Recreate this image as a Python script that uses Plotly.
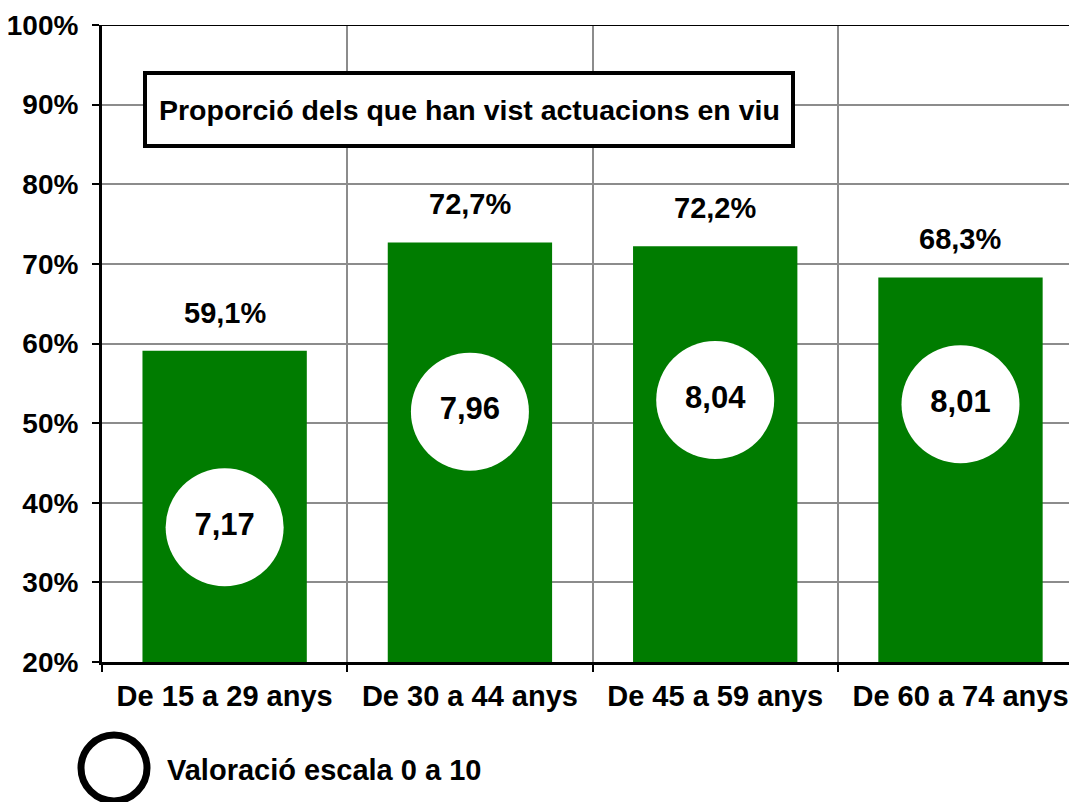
import plotly.graph_objects as go

categories = ["De 15 a 29 anys", "De 30 a 44 anys", "De 45 a 59 anys", "De 60 a 74 anys"]
proporcio = [59.1, 72.7, 72.2, 68.3]
valoracio = [7.17, 7.96, 8.04, 8.01]
ytick_vals = [20, 30, 40, 50, 60, 70, 80, 90, 100]
ytick_text = ["20%", "30%", "40%", "50%", "60%", "70%", "80%", "90%", "100%"]
title_text = "Proporció dels que han vist actuacions en viu"
legend_text = "Valoració escala 0 a 10"

FONT = "Liberation Sans, Arial, sans-serif"
GREEN = "#007c00"
OFF = 8  # page body margin
W, H = 1077 - OFF, 802 - OFF
L, R, T, B = 102 - OFF, 0, 25 - OFF, 140
PW, PH = W - L - R, H - T - B
X0, YB = 102, 662  # plot-area left / bottom in screen pixels


def px_x(p):
    return (p - X0) / PW


def px_y(p):
    return (YB - p) / PH


def fmt(v, dec):
    return f"{v:.{dec}f}".replace(".", ",")


fig = go.Figure()
fig.add_trace(go.Bar(
    x=categories, y=proporcio, width=0.67,
    marker=dict(color=GREEN, line=dict(width=0)),
    hoverinfo="skip", showlegend=False,
))
fig.add_trace(go.Scatter(
    x=categories, y=valoracio, yaxis="y2", mode="markers+text",
    marker=dict(size=118, color="white", line=dict(width=0)),
    text=[fmt(v, 2) for v in valoracio], textposition="middle center",
    textfont=dict(family=FONT, size=31, color="black", weight="bold"),
    cliponaxis=False, showlegend=False, hoverinfo="skip",
))

annotations = []
for c, v in zip(categories, proporcio):
    annotations.append(dict(
        x=c, y=v, xref="x", yref="y", text=fmt(v, 1) + "%", showarrow=False,
        yshift=38, font=dict(family=FONT, size=29, color="black", weight="bold"),
    ))

shapes = [
    dict(type="line", xref="paper", yref="y", x0=0, x1=1, y0=100, y1=100,
         line=dict(color="black", width=2)),
    dict(type="rect", xref="paper", yref="paper",
         x0=px_x(145), x1=px_x(793), y0=px_y(146), y1=px_y(73),
         line=dict(color="black", width=4), fillcolor="white"),
    dict(type="circle", xref="paper", yref="paper",
         x0=px_x(81), x1=px_x(147), y0=px_y(801), y1=px_y(735),
         line=dict(color="black", width=7), fillcolor="white"),
]
annotations.append(dict(
    x=px_x(469), y=px_y(109.5), xref="paper", yref="paper", text=title_text,
    showarrow=False, xanchor="center", yanchor="middle",
    font=dict(family=FONT, size=28.5, color="black", weight="bold"),
))
annotations.append(dict(
    x=px_x(165), y=px_y(770), xref="paper", yref="paper", text=legend_text,
    showarrow=False, xanchor="left", yanchor="middle",
    font=dict(family=FONT, size=29, color="black", weight="bold"),
))

fig.update_layout(
    width=W, height=H, margin=dict(l=L, r=R, t=T, b=B, pad=0),
    paper_bgcolor="white", plot_bgcolor="white",
    xaxis=dict(
        type="category", range=[-0.5, 3.475], tickson="boundaries",
        showgrid=True, gridcolor="#8c8c8c", gridwidth=1.5,
        showline=True, linecolor="black", linewidth=3,
        ticks="outside", ticklen=7, tickwidth=2, tickcolor="black",
        ticklabelstandoff=6,
        tickfont=dict(family=FONT, size=29, color="black", weight="bold"),
        fixedrange=True,
    ),
    yaxis=dict(
        range=[20, 100], tickvals=ytick_vals, ticktext=ytick_text,
        showgrid=True, gridcolor="#8c8c8c", gridwidth=1.5,
        showline=True, linecolor="black", linewidth=3,
        ticks="outside", ticklen=7, tickwidth=2, tickcolor="black",
        ticklabelstandoff=8,
        tickfont=dict(family=FONT, size=28, color="black", weight="bold"),
        zeroline=False, fixedrange=True,
    ),
    yaxis2=dict(range=[6.249, 10.603], overlaying="y", visible=False, fixedrange=True),
    shapes=shapes, annotations=annotations,
)

fig.write_html("out.html")
